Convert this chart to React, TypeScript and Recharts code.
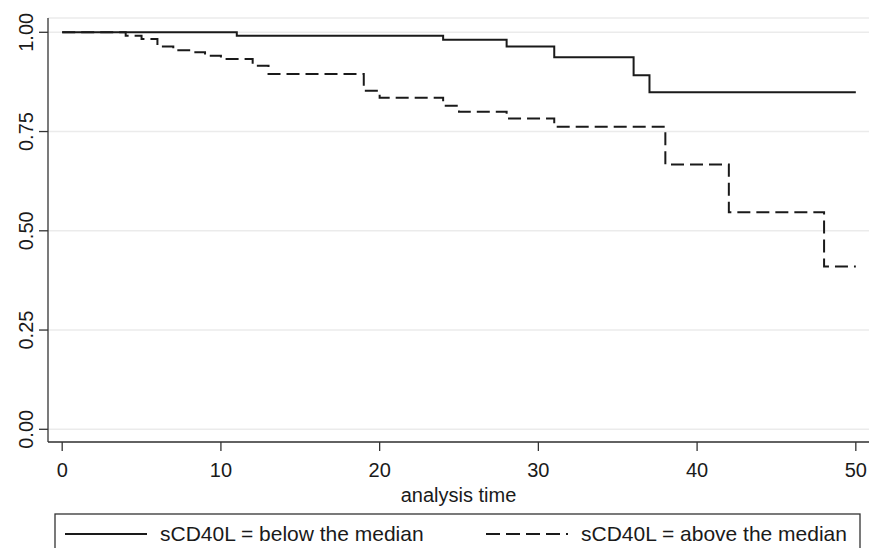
import React from 'react';
import { LineChart, Line, XAxis, YAxis, CartesianGrid, Legend } from 'recharts';

const belowTimes = [0, 11, 24, 28, 31, 36, 37, 50];
const belowSurv = [1.0, 0.991, 0.981, 0.964, 0.937, 0.892, 0.849, 0.849];

const aboveTimes = [0, 4, 5, 6, 7, 8, 9, 10, 12, 13, 19, 20, 24, 25, 28, 31, 38, 42, 48, 50];
const aboveSurv = [1.0, 0.991, 0.983, 0.964, 0.955, 0.95, 0.941, 0.933, 0.916, 0.895, 0.853, 0.835, 0.815, 0.8, 0.783, 0.762, 0.667, 0.547, 0.41, 0.41];

const xTicks = [0, 10, 20, 30, 40, 50];
const yTicks = [0, 0.25, 0.5, 0.75, 1];
const yTickLabels = ['0.00', '0.25', '0.50', '0.75', '1.00'];

const belowLabel = 'sCD40L = below the median';
const aboveLabel = 'sCD40L = above the median';
const xTitle = 'analysis time';

const belowData = belowTimes.map((t, i) => ({ t, s: belowSurv[i] }));
const aboveData = aboveTimes.map((t, i) => ({ t, s: aboveSurv[i] }));

const FONT = '"Liberation Sans", Arial, sans-serif';
const FS = 20;
const INK = '#1a1a1a';

const XTick = (props: any) => {
  const { x, payload } = props;
  return (
    <text x={x} y={477} textAnchor="middle" fontFamily={FONT} fontSize={FS} fill={INK}>
      {payload.value}
    </text>
  );
};

const YTick = (props: any) => {
  const { y, payload } = props;
  const idx = yTicks.indexOf(payload.value);
  const label = idx >= 0 ? yTickLabels[idx] : String(payload.value);
  return (
    <text
      transform={`translate(26,${y}) rotate(-90)`}
      textAnchor="middle"
      dominantBaseline="central"
      fontFamily={FONT}
      fontSize={FS}
      fill={INK}
    >
      {label}
    </text>
  );
};

const XTitle = (props: any) => {
  const vb = props.viewBox || { x: 48, width: 821 };
  const cx = vb.x + vb.width / 2;
  return (
    <text x={cx} y={502} textAnchor="middle" fontFamily={FONT} fontSize={FS} fill={INK}>
      {xTitle}
    </text>
  );
};

const LegendBox = () => (
  <svg width={869} height={548} style={{ position: 'absolute', left: 0, top: 0, pointerEvents: 'none' }}>
    <rect x={55} y={514} width={805} height={60} fill="none" stroke="#333" strokeWidth={1.3} />
    <line x1={65} y1={534} x2={147} y2={534} stroke={INK} strokeWidth={2} />
    <text x={160} y={541} fontFamily={FONT} fontSize={21} fill={INK}>
      {belowLabel}
    </text>
    <line x1={486} y1={534} x2={568} y2={534} stroke={INK} strokeWidth={2} strokeDasharray="14 6" />
    <text x={581} y={541} fontFamily={FONT} fontSize={21} fill={INK}>
      {aboveLabel}
    </text>
  </svg>
);

export default function App() {
  return (
    <div style={{ position: 'absolute', left: 0, top: 0, width: 869, height: 548, overflow: 'hidden', background: '#fff' }}>
      <LineChart width={869} height={548} margin={{ top: 18, right: 0, bottom: 0, left: 0 }}>
        <CartesianGrid horizontal vertical={false} stroke="#ebebeb" strokeWidth={1.5} />
        <XAxis
          type="number"
          dataKey="t"
          domain={[-0.894, 50.83]}
          ticks={xTicks}
          allowDataOverflow
          height={106}
          tickSize={9}
          tick={<XTick />}
          stroke="#333"
          strokeWidth={1.3}
          label={<XTitle />}
        />
        <YAxis
          type="number"
          domain={[-0.032, 1.036]}
          ticks={yTicks}
          allowDataOverflow
          width={48}
          tickSize={9}
          tick={<YTick />}
          stroke="#333"
          strokeWidth={1.3}
        />
        <Legend
          layout="vertical"
          align="center"
          verticalAlign="middle"
          wrapperStyle={{ position: 'absolute', left: 0, top: 0, width: 869, height: 548, margin: 0, pointerEvents: 'none' }}
          content={() => <LegendBox />}
        />
        <Line
          data={belowData}
          dataKey="s"
          type="stepAfter"
          stroke={INK}
          strokeWidth={2}
          dot={false}
          isAnimationActive={false}
          name={belowLabel}
        />
        <Line
          data={aboveData}
          dataKey="s"
          type="stepAfter"
          stroke={INK}
          strokeWidth={2}
          strokeDasharray="13 6"
          dot={false}
          isAnimationActive={false}
          name={aboveLabel}
        />
      </LineChart>
    </div>
  );
}
